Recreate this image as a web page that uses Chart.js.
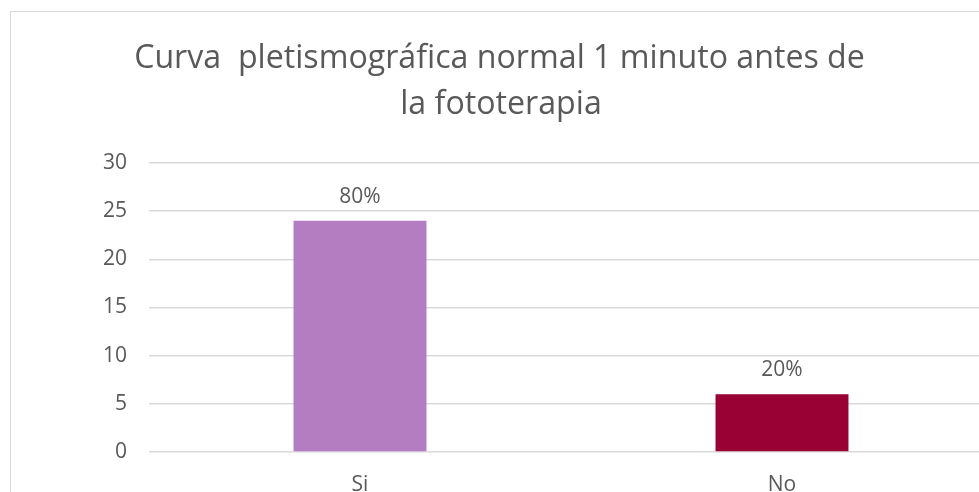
<!DOCTYPE html>
<html>
<head>
<meta charset="utf-8">
<script src="https://cdn.jsdelivr.net/npm/chart.js@4/dist/chart.umd.min.js"></script>
<style>
  html, body { margin: 0; padding: 0; background: #fff; overflow: hidden; width: 979px; height: 492px; }
  #frame { position: absolute; left: 10px; top: 11px; width: 1010px; height: 500px; border: 1px solid #d9d9d9; }
  #chart { display: block; }
</style>
</head>
<body>
<div id="frame"><canvas id="chart" width="1010" height="490"></canvas></div>
<script>
// data
const categories = ['Si', 'No'];
const counts = [24, 6];
const percentLabels = ['80%', '20%'];
const barColors = ['#b57dc1', '#990033'];
const titleLines = ['Curva  pletismográfica normal 1 minuto antes de', 'la fototerapia'];

const FONT = '"Open Sans", "Noto Sans", sans-serif';
const TEXT = '#595959';

// title drawn by hand so it can be fitted to the reference width
const titlePlugin = {
  id: 'fitTitle',
  afterDraw(chart) {
    const ctx = chart.ctx;
    ctx.save();
    ctx.fillStyle = TEXT;
    ctx.textAlign = 'center';
    ctx.textBaseline = 'alphabetic';
    let size = 32;
    ctx.font = `${size}px ${FONT}`;
    const w = ctx.measureText(titleLines[0]).width;
    size = size * 731 / w;
    ctx.font = `${size}px ${FONT}`;
    ctx.fillText(titleLines[0], 488.5, 56);
    ctx.fillText(titleLines[1], 490, 102);
    ctx.restore();
  }
};

// percentage labels over the bars
const barLabels = {
  id: 'barLabels',
  afterDatasetsDraw(chart) {
    const ctx = chart.ctx;
    const meta = chart.getDatasetMeta(0);
    ctx.save();
    ctx.fillStyle = TEXT;
    ctx.font = `21px ${FONT}`;
    ctx.textAlign = 'center';
    ctx.textBaseline = 'alphabetic';
    meta.data.forEach((bar, i) => {
      ctx.fillText(percentLabels[i], bar.x, bar.y - 18);
    });
    ctx.restore();
  }
};

new Chart(document.getElementById('chart'), {
  type: 'bar',
  data: {
    labels: categories,
    datasets: [{
      data: counts,
      backgroundColor: barColors,
      categoryPercentage: 1,
      barPercentage: 0.315
    }]
  },
  options: {
    responsive: false,
    animation: false,
    layout: { padding: { top: 151, left: 0, right: 28, bottom: 0 } },
    plugins: {
      legend: { display: false },
      tooltip: { enabled: false },
      title: { display: false }
    },
    scales: {
      x: {
        grid: { display: false },
        border: { display: false },
        ticks: { color: TEXT, font: { family: FONT, size: 21 }, padding: 12 },
        afterFit(scale) { scale.height = 50; }
      },
      y: {
        min: 0,
        max: 30,
        ticks: { stepSize: 5, color: TEXT, font: { family: FONT, size: 21 }, padding: 22 },
        grid: { color: '#d9d9d9', lineWidth: 1.5, drawTicks: false },
        border: { display: false },
        afterFit(scale) { scale.width = 138; }
      }
    }
  },
  plugins: [titlePlugin, barLabels]
});
</script>
</body>
</html>
